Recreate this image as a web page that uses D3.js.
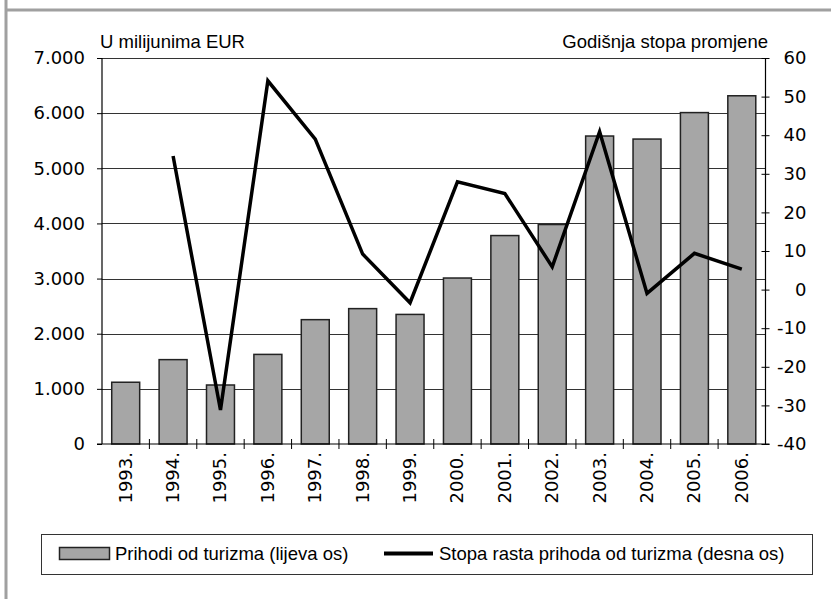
<!DOCTYPE html>
<html>
<head>
<meta charset="utf-8">
<script src="https://cdn.jsdelivr.net/npm/d3@7"></script>
<style>
  body { margin: 0; background: #fff; }
  .tick text { font-family: "DejaVu Sans", sans-serif; font-size: 18px; fill: #000; }
  .lbl { font-family: "Liberation Sans", Arial, sans-serif; font-size: 18.5px; fill: #000; }
</style>
</head>
<body>
<div class="chart"></div>
<script>
// data
var years = ["1993.", "1994.", "1995.", "1996.", "1997.", "1998.", "1999.",
             "2000.", "2001.", "2002.", "2003.", "2004.", "2005.", "2006."];
var revenue = [1120, 1530, 1070, 1625, 2255, 2455, 2350, 3010, 3780, 3980, 5585, 5530, 6010, 6315];
var growth = [null, 34.6, -31.2, 54.1, 39.0, 9.2, -3.4, 27.9, 24.9, 5.9, 40.9, -1.0, 9.4, 5.3];
var leftTicks = [0, 1000, 2000, 3000, 4000, 5000, 6000, 7000];
var rightTicks = [-40, -30, -20, -10, 0, 10, 20, 30, 40, 50, 60];

var svgWidth = 831;
var svgHeight = 599;
var plot = { left: 102, right: 765.5, top: 58, bottom: 444 };

var svg = d3.select(".chart")
    .append("svg")
    .attr("width", svgWidth)
    .attr("height", svgHeight)
    .style("display", "block");

// frame remains (gray border lines) and the title, cut off at the top edge
svg.append("text")
   .attr("x", 15).attr("y", -1)
   .attr("class", "lbl")
   .style("fill", "#aaa")
   .text("Grafikon 1. Prihodi od turizma");
svg.append("line").attr("x1", 6).attr("x2", 6).attr("y1", 0).attr("y2", svgHeight)
   .attr("stroke", "#a0a0a0").attr("stroke-width", 3);
svg.append("line").attr("x1", 5).attr("x2", 831).attr("y1", 10).attr("y2", 10)
   .attr("stroke", "#a0a0a0").attr("stroke-width", 3);

// scales
var x = d3.scaleBand()
    .domain(years)
    .range([plot.left, plot.right])
    .paddingInner(0.41)
    .paddingOuter(0.205);

var yLeft = d3.scaleLinear().domain([0, 7000]).range([plot.bottom, plot.top]);
var yRight = d3.scaleLinear().domain([-40, 60]).range([plot.bottom, plot.top]);

var fmt = function(d) { return d === 0 ? "0" : d3.format(",")(d).replace(/,/g, "."); };

// gridlines
svg.append("g")
   .selectAll("line")
   .data(leftTicks.slice(1))
   .enter()
   .append("line")
   .attr("x1", plot.left).attr("x2", plot.right)
   .attr("y1", d => Math.round(yLeft(d)) + 0.5)
   .attr("y2", d => Math.round(yLeft(d)) + 0.5)
   .attr("stroke", "#333")
   .attr("stroke-width", 1.2);

// bars
svg.append("g")
   .selectAll("rect")
   .data(revenue)
   .enter()
   .append("rect")
   .attr("x", (d, i) => x(years[i]))
   .attr("width", x.bandwidth())
   .attr("y", d => yLeft(d))
   .attr("height", d => yLeft(0) - yLeft(d))
   .attr("fill", "#a6a6a6")
   .attr("stroke", "#222")
   .attr("stroke-width", 1.5);

// left axis
var leftAxis = d3.axisLeft(yLeft).tickValues(leftTicks).tickFormat(fmt).tickSize(5).tickPadding(12);
var gl = svg.append("g")
   .attr("transform", `translate(${plot.left},0)`)
   .call(leftAxis);
gl.select(".domain").remove();
gl.append("line").attr("x1", 0).attr("x2", 0).attr("y1", plot.top).attr("y2", plot.bottom)
  .attr("stroke", "#000").attr("stroke-width", 1.2);

// right axis (ticks crossing the line), plain hyphen for negatives
var rightAxis = d3.axisRight(yRight).tickValues(rightTicks).tickFormat(d => String(d))
    .tickSize(0).tickPadding(0);
var gr = svg.append("g")
   .attr("transform", `translate(${plot.right},0)`)
   .call(rightAxis);
gr.select(".domain").remove();
gr.selectAll(".tick line").attr("x1", -4).attr("x2", 4).attr("stroke", "#000");
gr.selectAll(".tick text").attr("x", 41).attr("text-anchor", "end");
gr.append("line").attr("x1", 0).attr("x2", 0).attr("y1", plot.top).attr("y2", plot.bottom)
  .attr("stroke", "#000").attr("stroke-width", 1.2);

// x axis with ticks between categories
var bounds = d3.range(years.length + 1).map(i => plot.left + i * (plot.right - plot.left) / years.length);
svg.append("line").attr("x1", plot.left - 5).attr("x2", plot.right + 4)
   .attr("y1", plot.bottom).attr("y2", plot.bottom)
   .attr("stroke", "#000").attr("stroke-width", 1.2);
svg.append("g")
   .selectAll("line")
   .data(bounds.slice(1, -1))
   .enter()
   .append("line")
   .attr("x1", d => d).attr("x2", d => d)
   .attr("y1", plot.bottom - 5).attr("y2", plot.bottom + 5)
   .attr("stroke", "#000");

svg.append("g")
   .attr("class", "tick")
   .selectAll("text")
   .data(years)
   .enter()
   .append("text")
   .attr("transform", d => `translate(${x(d) + x.bandwidth() / 2 + 6},${plot.bottom + 8}) rotate(-90)`)
   .attr("text-anchor", "end")
   .text(d => d);

// growth line
var line = d3.line()
    .defined(d => d !== null)
    .x((d, i) => x(years[i]) + x.bandwidth() / 2)
    .y(d => yRight(d));

svg.append("path")
   .datum(growth)
   .attr("d", line)
   .attr("fill", "none")
   .attr("stroke", "#000")
   .attr("stroke-width", 3.5)
   .attr("stroke-linejoin", "miter");

// axis titles
svg.append("text").attr("class", "lbl").attr("x", 100).attr("y", 48).text("U milijunima EUR");
svg.append("text").attr("class", "lbl").attr("x", 768).attr("y", 48)
   .attr("text-anchor", "end").text("Godišnja stopa promjene");

// legend
var legend = svg.append("g");
legend.append("rect").attr("x", 41.5).attr("y", 534.5).attr("width", 771).attr("height", 40)
   .attr("fill", "#fff").attr("stroke", "#333");
legend.append("rect").attr("x", 59.5).attr("y", 547.5).attr("width", 50).attr("height", 12)
   .attr("fill", "#a6a6a6").attr("stroke", "#222").attr("stroke-width", 1.5);
legend.append("text").attr("class", "lbl").attr("x", 115).attr("y", 560).text("Prihodi od turizma (lijeva os)");
legend.append("line").attr("x1", 384).attr("x2", 433).attr("y1", 553.5).attr("y2", 553.5)
   .attr("stroke", "#000").attr("stroke-width", 4);
legend.append("text").attr("class", "lbl").attr("x", 439).attr("y", 560).text("Stopa rasta prihoda od turizma (desna os)");
</script>
</body>
</html>
